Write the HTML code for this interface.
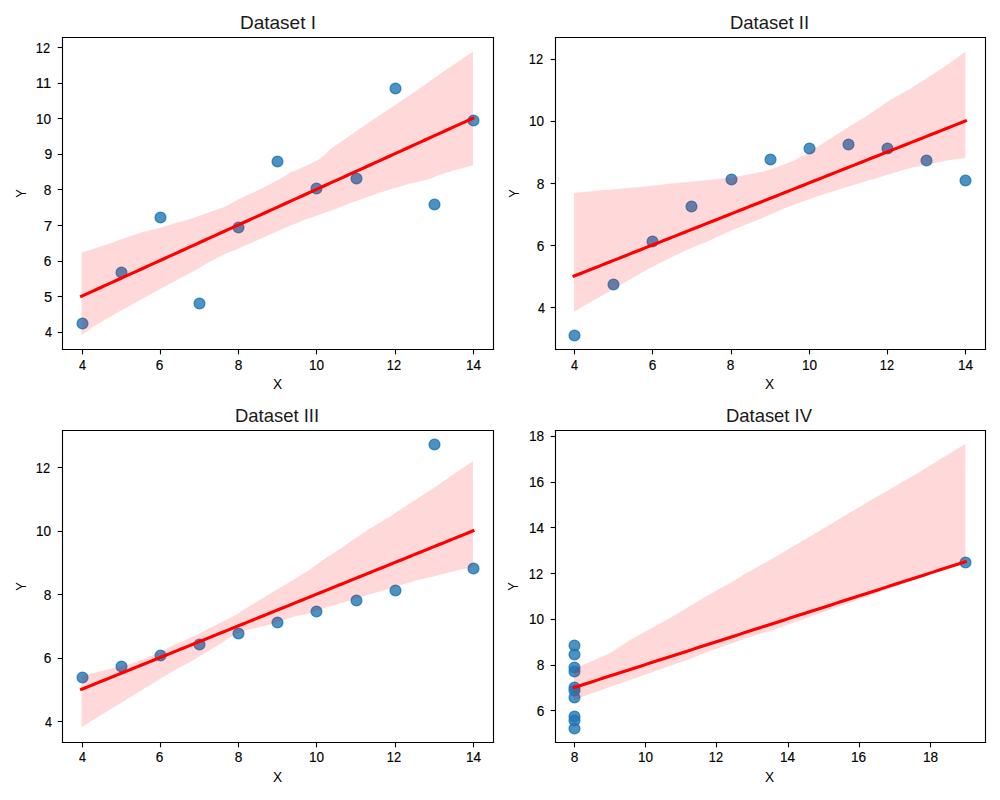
<!DOCTYPE html>
<html><head><meta charset="utf-8"><title>Anscombe</title><style>html,body{margin:0;padding:0;background:#fff;overflow:hidden;width:1000px;height:800px}.wrap{position:relative;width:1000px;height:800px}.wrap svg{position:absolute;left:0;top:0;display:block}</style></head><body><div class="wrap">
<svg width="1000" height="800" viewBox="0 0 720 576" version="1.1">
 <defs>
  <style type="text/css">*{stroke-linejoin: round; stroke-linecap: butt}</style>
 </defs>
 <g id="figure_1">
  <g id="patch_1">
   <path d="M 0 576 
L 720 576 
L 720 0 
L 0 0 
z
" style="fill: #ffffff"/>
  </g>
  <g id="axes_1">
   <g id="patch_2">
    <path d="M 44.66 251.44 
L 354.6 251.44 
L 354.6 26.88 
L 44.66 26.88 
z
" style="fill: #ffffff"/>
   </g>
   <g id="PathCollection_1">
    <defs>
     <path id="me8ba487dad" d="M 0 3.872983 
C 1.027127 3.872983 2.012324 3.464901 2.738613 2.738613 
C 3.464901 2.012324 3.872983 1.027127 3.872983 0 
C 3.872983 -1.027127 3.464901 -2.012324 2.738613 -2.738613 
C 2.012324 -3.464901 1.027127 -3.872983 0 -3.872983 
C -1.027127 -3.872983 -2.012324 -3.464901 -2.738613 -2.738613 
C -3.464901 -2.012324 -3.872983 -1.027127 -3.872983 0 
C -3.872983 1.027127 -3.464901 2.012324 -2.738613 2.738613 
C -2.012324 3.464901 -1.027127 3.872983 0 3.872983 
z
" style="stroke: #1f77b4; stroke-opacity: 0.8"/>
    </defs>
    <g clip-path="url(#p485df632ab)">
     <use href="#me8ba487dad" x="227.88" y="135.72" style="fill: #1f77b4; fill-opacity: 0.8; stroke: #1f77b4; stroke-opacity: 0.8"/>
     <use href="#me8ba487dad" x="171.72" y="163.8" style="fill: #1f77b4; fill-opacity: 0.8; stroke: #1f77b4; stroke-opacity: 0.8"/>
     <use href="#me8ba487dad" x="312.84" y="147.24" style="fill: #1f77b4; fill-opacity: 0.8; stroke: #1f77b4; stroke-opacity: 0.8"/>
     <use href="#me8ba487dad" x="199.8" y="116.28" style="fill: #1f77b4; fill-opacity: 0.8; stroke: #1f77b4; stroke-opacity: 0.8"/>
     <use href="#me8ba487dad" x="256.68" y="128.52" style="fill: #1f77b4; fill-opacity: 0.8; stroke: #1f77b4; stroke-opacity: 0.8"/>
     <use href="#me8ba487dad" x="340.92" y="86.76" style="fill: #1f77b4; fill-opacity: 0.8; stroke: #1f77b4; stroke-opacity: 0.8"/>
     <use href="#me8ba487dad" x="115.56" y="156.6" style="fill: #1f77b4; fill-opacity: 0.8; stroke: #1f77b4; stroke-opacity: 0.8"/>
     <use href="#me8ba487dad" x="59.4" y="232.92" style="fill: #1f77b4; fill-opacity: 0.8; stroke: #1f77b4; stroke-opacity: 0.8"/>
     <use href="#me8ba487dad" x="284.76" y="63.72" style="fill: #1f77b4; fill-opacity: 0.8; stroke: #1f77b4; stroke-opacity: 0.8"/>
     <use href="#me8ba487dad" x="143.64" y="218.52" style="fill: #1f77b4; fill-opacity: 0.8; stroke: #1f77b4; stroke-opacity: 0.8"/>
     <use href="#me8ba487dad" x="87.48" y="196.2" style="fill: #1f77b4; fill-opacity: 0.8; stroke: #1f77b4; stroke-opacity: 0.8"/>
    </g>
   </g>
   <g id="FillBetweenPolyCollection_1">
    <path d="M 58.748182 181.872 
L 58.748182 241.2 
L 61.594279 239.214916 
L 64.440376 237.227166 
L 67.286474 235.239415 
L 70.132571 233.476025 
L 72.978669 231.764874 
L 75.824766 230.053724 
L 78.670863 228.342573 
L 81.516961 226.73288 
L 84.363058 225.169283 
L 87.209155 223.605686 
L 90.055253 222.04209 
L 92.90135 220.473856 
L 95.747447 218.902391 
L 98.593545 217.330926 
L 101.439642 215.759462 
L 104.285739 214.191662 
L 107.131837 212.628065 
L 109.977934 211.064468 
L 112.824031 209.500872 
L 115.670129 207.940801 
L 118.516226 206.386797 
L 121.362323 204.832793 
L 124.208421 203.278789 
L 127.054518 201.742851 
L 129.900615 200.26288 
L 132.746713 198.782909 
L 135.59281 197.300943 
L 138.438907 195.796578 
L 141.285005 194.228997 
L 144.131102 192.521339 
L 146.977199 190.81368 
L 149.823297 189.106022 
L 152.669394 187.545303 
L 155.515491 186.122254 
L 158.361589 184.699206 
L 161.207686 183.276157 
L 164.053783 182.058487 
L 166.899881 180.920048 
L 169.745978 179.781609 
L 172.592075 178.64317 
L 175.438173 177.372822 
L 178.28427 176.092079 
L 181.130367 174.811335 
L 183.976465 173.530591 
L 186.822562 172.249847 
L 189.668659 170.969103 
L 192.514757 169.68836 
L 195.360854 168.416094 
L 198.206951 167.160463 
L 201.053049 165.904831 
L 203.899146 164.6492 
L 206.745243 163.39761 
L 209.591341 162.251266 
L 212.437438 161.104921 
L 215.283535 159.958576 
L 218.129633 158.812231 
L 220.97573 157.738494 
L 223.821827 156.74236 
L 226.667925 155.746226 
L 229.514022 154.750092 
L 232.360119 153.753958 
L 235.206217 152.757824 
L 238.052314 151.76169 
L 240.898411 150.765556 
L 243.744509 149.642197 
L 246.590606 148.503758 
L 249.436703 147.365319 
L 252.282801 146.24102 
L 255.128898 145.244886 
L 257.974995 144.248752 
L 260.821093 143.252618 
L 263.66719 142.247812 
L 266.513287 141.223217 
L 269.359385 140.198621 
L 272.205482 139.174026 
L 275.051579 138.224914 
L 277.897677 137.348316 
L 280.743774 136.471718 
L 283.589871 135.603039 
L 286.435969 134.749209 
L 289.282066 133.89538 
L 292.128163 133.069015 
L 294.974261 132.363183 
L 297.820358 131.657351 
L 300.666455 130.951253 
L 303.512553 130.234037 
L 306.35865 129.51682 
L 309.204747 128.799604 
L 312.050845 127.719662 
L 314.896942 126.581223 
L 317.743039 125.442784 
L 320.589137 124.503259 
L 323.435234 123.64943 
L 326.281331 122.795601 
L 329.127429 122.021198 
L 331.973526 121.315366 
L 334.819624 120.609533 
L 337.665721 119.916102 
L 340.511818 119.243388 
L 340.511818 37.112779 
L 340.511818 37.112779 
L 337.665721 39.049059 
L 334.819624 40.985338 
L 331.973526 42.921617 
L 329.127429 44.857897 
L 326.281331 46.794176 
L 323.435234 48.730455 
L 320.589137 50.666735 
L 317.743039 52.619872 
L 314.896942 54.61214 
L 312.050845 56.604409 
L 309.204747 58.596677 
L 306.35865 60.588945 
L 303.512553 62.581213 
L 300.666455 64.573481 
L 297.820358 66.565749 
L 294.974261 68.558017 
L 292.128163 70.550286 
L 289.282066 72.449836 
L 286.435969 74.328261 
L 283.589871 76.206685 
L 280.743774 78.085109 
L 277.897677 79.963533 
L 275.051579 81.841958 
L 272.205482 83.720382 
L 269.359385 85.598806 
L 266.513287 87.47723 
L 263.66719 89.392967 
L 260.821093 91.385235 
L 257.974995 93.377503 
L 255.128898 95.369771 
L 252.282801 97.362039 
L 249.436703 99.354308 
L 246.590606 101.346576 
L 243.744509 103.338844 
L 240.898411 105.331112 
L 238.052314 107.32338 
L 235.206217 109.914094 
L 232.360119 112.617887 
L 229.514022 114.922989 
L 226.667925 116.346038 
L 223.821827 117.769086 
L 220.97573 119.192135 
L 218.129633 120.468147 
L 215.283535 121.606586 
L 212.437438 122.745025 
L 209.591341 123.883464 
L 206.745243 125.63833 
L 203.899146 127.43547 
L 201.053049 129.000823 
L 198.206951 130.566177 
L 195.360854 132.13153 
L 192.514757 133.602622 
L 189.668659 135.02567 
L 186.822562 136.448719 
L 183.976465 137.871768 
L 181.130367 139.171335 
L 178.28427 140.452079 
L 175.438173 141.732822 
L 172.592075 143.034359 
L 169.745978 144.599712 
L 166.899881 146.165066 
L 164.053783 147.730419 
L 161.207686 149.13731 
L 158.361589 150.133444 
L 155.515491 151.129578 
L 152.669394 152.125712 
L 149.823297 153.121846 
L 146.977199 154.11798 
L 144.131102 155.114114 
L 141.285005 156.110248 
L 138.438907 157.106382 
L 135.59281 158.102517 
L 132.746713 158.873908 
L 129.900615 159.625278 
L 127.054518 160.376647 
L 124.208421 161.246393 
L 121.362323 162.154351 
L 118.516226 163.062308 
L 115.670129 163.970266 
L 112.824031 164.715104 
L 109.977934 165.365139 
L 107.131837 166.015173 
L 104.285739 166.665208 
L 101.439642 167.471677 
L 98.593545 168.414556 
L 95.747447 169.357435 
L 92.90135 170.300314 
L 90.055253 171.288869 
L 87.209155 172.34298 
L 84.363058 173.39709 
L 81.516961 174.4512 
L 78.670863 175.459651 
L 75.824766 176.367608 
L 72.978669 177.275566 
L 70.132571 178.183523 
L 67.286474 179.094909 
L 64.440376 180.02102 
L 61.594279 180.947131 
L 58.748182 181.872 
z
" clip-path="url(#p485df632ab)" style="fill: #ff0000; fill-opacity: 0.15"/>
   </g>
   <g id="matplotlib.axis_1">
    <g id="xtick_1">
     <g id="line2d_1">
      <defs>
       <path id="m1504cfccaf" d="M 0 0 
L 0 3.5 
" style="stroke: #000000; stroke-width: 0.8"/>
      </defs>
      <g>
       <use href="#m1504cfccaf" x="59.4" y="251.64" style="stroke: #000000; stroke-width: 0.8"/>
      </g>
     </g>
    </g>
    <g id="xtick_2">
     <g id="line2d_2">
      <g>
       <use href="#m1504cfccaf" x="115.56" y="251.64" style="stroke: #000000; stroke-width: 0.8"/>
      </g>
     </g>
    </g>
    <g id="xtick_3">
     <g id="line2d_3">
      <g>
       <use href="#m1504cfccaf" x="171.72" y="251.64" style="stroke: #000000; stroke-width: 0.8"/>
      </g>
     </g>
    </g>
    <g id="xtick_4">
     <g id="line2d_4">
      <g>
       <use href="#m1504cfccaf" x="227.88" y="251.64" style="stroke: #000000; stroke-width: 0.8"/>
      </g>
     </g>
    </g>
    <g id="xtick_5">
     <g id="line2d_5">
      <g>
       <use href="#m1504cfccaf" x="284.76" y="251.64" style="stroke: #000000; stroke-width: 0.8"/>
      </g>
     </g>
    </g>
    <g id="xtick_6">
     <g id="line2d_6">
      <g>
       <use href="#m1504cfccaf" x="340.92" y="251.64" style="stroke: #000000; stroke-width: 0.8"/>
      </g>
     </g>
    </g>
   </g>
   <g id="matplotlib.axis_2">
    <g id="ytick_1">
     <g id="line2d_7">
      <defs>
       <path id="m5d545ce8f8" d="M 0 0 
L -3.5 0 
" style="stroke: #000000; stroke-width: 0.8"/>
      </defs>
      <g>
       <use href="#m5d545ce8f8" x="45" y="239.4" style="stroke: #000000; stroke-width: 0.8"/>
      </g>
     </g>
    </g>
    <g id="ytick_2">
     <g id="line2d_8">
      <g>
       <use href="#m5d545ce8f8" x="45" y="213.48" style="stroke: #000000; stroke-width: 0.8"/>
      </g>
     </g>
    </g>
    <g id="ytick_3">
     <g id="line2d_9">
      <g>
       <use href="#m5d545ce8f8" x="45" y="188.28" style="stroke: #000000; stroke-width: 0.8"/>
      </g>
     </g>
    </g>
    <g id="ytick_4">
     <g id="line2d_10">
      <g>
       <use href="#m5d545ce8f8" x="45" y="162.36" style="stroke: #000000; stroke-width: 0.8"/>
      </g>
     </g>
    </g>
    <g id="ytick_5">
     <g id="line2d_11">
      <g>
       <use href="#m5d545ce8f8" x="45" y="136.44" style="stroke: #000000; stroke-width: 0.8"/>
      </g>
     </g>
    </g>
    <g id="ytick_6">
     <g id="line2d_12">
      <g>
       <use href="#m5d545ce8f8" x="45" y="111.24" style="stroke: #000000; stroke-width: 0.8"/>
      </g>
     </g>
    </g>
    <g id="ytick_7">
     <g id="line2d_13">
      <g>
       <use href="#m5d545ce8f8" x="45" y="85.32" style="stroke: #000000; stroke-width: 0.8"/>
      </g>
     </g>
    </g>
    <g id="ytick_8">
     <g id="line2d_14">
      <g>
       <use href="#m5d545ce8f8" x="45" y="60.12" style="stroke: #000000; stroke-width: 0.8"/>
      </g>
     </g>
    </g>
    <g id="ytick_9">
     <g id="line2d_15">
      <g>
       <use href="#m5d545ce8f8" x="45" y="34.2" style="stroke: #000000; stroke-width: 0.8"/>
      </g>
     </g>
    </g>
   </g>
   <g id="line2d_16">
    <path d="M 58.748182 213.284034 
L 61.594279 211.989339 
L 64.440376 210.694643 
L 67.286474 209.399947 
L 70.132571 208.105252 
L 72.978669 206.810556 
L 75.824766 205.51586 
L 78.670863 204.221165 
L 81.516961 202.926469 
L 84.363058 201.631773 
L 87.209155 200.337078 
L 90.055253 199.042382 
L 92.90135 197.747686 
L 95.747447 196.452991 
L 98.593545 195.158295 
L 101.439642 193.863599 
L 104.285739 192.568903 
L 107.131837 191.274208 
L 109.977934 189.979512 
L 112.824031 188.684816 
L 115.670129 187.390121 
L 118.516226 186.095425 
L 121.362323 184.800729 
L 124.208421 183.506034 
L 127.054518 182.211338 
L 129.900615 180.916642 
L 132.746713 179.621947 
L 135.59281 178.327251 
L 138.438907 177.032555 
L 141.285005 175.73786 
L 144.131102 174.443164 
L 146.977199 173.148468 
L 149.823297 171.853773 
L 152.669394 170.559077 
L 155.515491 169.264381 
L 158.361589 167.969686 
L 161.207686 166.67499 
L 164.053783 165.380294 
L 166.899881 164.085598 
L 169.745978 162.790903 
L 172.592075 161.496207 
L 175.438173 160.201511 
L 178.28427 158.906816 
L 181.130367 157.61212 
L 183.976465 156.317424 
L 186.822562 155.022729 
L 189.668659 153.728033 
L 192.514757 152.433337 
L 195.360854 151.138642 
L 198.206951 149.843946 
L 201.053049 148.54925 
L 203.899146 147.254555 
L 206.745243 145.959859 
L 209.591341 144.665163 
L 212.437438 143.370468 
L 215.283535 142.075772 
L 218.129633 140.781076 
L 220.97573 139.486381 
L 223.821827 138.191685 
L 226.667925 136.896989 
L 229.514022 135.602293 
L 232.360119 134.307598 
L 235.206217 133.012902 
L 238.052314 131.718206 
L 240.898411 130.423511 
L 243.744509 129.128815 
L 246.590606 127.834119 
L 249.436703 126.539424 
L 252.282801 125.244728 
L 255.128898 123.950032 
L 257.974995 122.655337 
L 260.821093 121.360641 
L 263.66719 120.065945 
L 266.513287 118.77125 
L 269.359385 117.476554 
L 272.205482 116.181858 
L 275.051579 114.887163 
L 277.897677 113.592467 
L 280.743774 112.297771 
L 283.589871 111.003076 
L 286.435969 109.70838 
L 289.282066 108.413684 
L 292.128163 107.118988 
L 294.974261 105.824293 
L 297.820358 104.529597 
L 300.666455 103.234901 
L 303.512553 101.940206 
L 306.35865 100.64551 
L 309.204747 99.350814 
L 312.050845 98.056119 
L 314.896942 96.761423 
L 317.743039 95.466727 
L 320.589137 94.172032 
L 323.435234 92.877336 
L 326.281331 91.58264 
L 329.127429 90.287945 
L 331.973526 88.993249 
L 334.819624 87.698553 
L 337.665721 86.403858 
L 340.511818 85.109162 
" clip-path="url(#p485df632ab)" style="fill: none; stroke: #ff0000; stroke-width: 2.25; stroke-linecap: square"/>
   </g>
   <g id="patch_3">
    <path d="M 45 251.64 
L 45 27 
" style="fill: none; stroke: #000000; stroke-width: 0.8; stroke-linejoin: miter; stroke-linecap: square"/>
   </g>
   <g id="patch_4">
    <path d="M 355.32 251.64 
L 355.32 27 
" style="fill: none; stroke: #000000; stroke-width: 0.8; stroke-linejoin: miter; stroke-linecap: square"/>
   </g>
   <g id="patch_5">
    <path d="M 45 251.64 
L 355.32 251.64 
" style="fill: none; stroke: #000000; stroke-width: 0.8; stroke-linejoin: miter; stroke-linecap: square"/>
   </g>
   <g id="patch_6">
    <path d="M 45 27 
L 355.32 27 
" style="fill: none; stroke: #000000; stroke-width: 0.8; stroke-linejoin: miter; stroke-linecap: square"/>
   </g>
  </g>
  <g id="axes_2">
   <g id="patch_7">
    <path d="M 399.26 251.44 
L 709.2 251.44 
L 709.2 26.88 
L 399.26 26.88 
z
" style="fill: #ffffff"/>
   </g>
   <g id="PathCollection_2">
    <g clip-path="url(#p1b302e3067)">
     <use href="#me8ba487dad" x="582.84" y="106.92" style="fill: #1f77b4; fill-opacity: 0.8; stroke: #1f77b4; stroke-opacity: 0.8"/>
     <use href="#me8ba487dad" x="526.68" y="129.24" style="fill: #1f77b4; fill-opacity: 0.8; stroke: #1f77b4; stroke-opacity: 0.8"/>
     <use href="#me8ba487dad" x="667.08" y="115.56" style="fill: #1f77b4; fill-opacity: 0.8; stroke: #1f77b4; stroke-opacity: 0.8"/>
     <use href="#me8ba487dad" x="554.76" y="114.84" style="fill: #1f77b4; fill-opacity: 0.8; stroke: #1f77b4; stroke-opacity: 0.8"/>
     <use href="#me8ba487dad" x="610.92" y="104.04" style="fill: #1f77b4; fill-opacity: 0.8; stroke: #1f77b4; stroke-opacity: 0.8"/>
     <use href="#me8ba487dad" x="695.16" y="129.96" style="fill: #1f77b4; fill-opacity: 0.8; stroke: #1f77b4; stroke-opacity: 0.8"/>
     <use href="#me8ba487dad" x="469.8" y="173.88" style="fill: #1f77b4; fill-opacity: 0.8; stroke: #1f77b4; stroke-opacity: 0.8"/>
     <use href="#me8ba487dad" x="413.64" y="241.56" style="fill: #1f77b4; fill-opacity: 0.8; stroke: #1f77b4; stroke-opacity: 0.8"/>
     <use href="#me8ba487dad" x="639" y="106.92" style="fill: #1f77b4; fill-opacity: 0.8; stroke: #1f77b4; stroke-opacity: 0.8"/>
     <use href="#me8ba487dad" x="497.88" y="148.68" style="fill: #1f77b4; fill-opacity: 0.8; stroke: #1f77b4; stroke-opacity: 0.8"/>
     <use href="#me8ba487dad" x="441.72" y="204.84" style="fill: #1f77b4; fill-opacity: 0.8; stroke: #1f77b4; stroke-opacity: 0.8"/>
    </g>
   </g>
   <g id="FillBetweenPolyCollection_2">
    <path d="M 413.348182 138.920115 
L 413.348182 224.393649 
L 416.194279 222.756168 
L 419.040376 221.118687 
L 421.886474 219.481207 
L 424.732571 217.843726 
L 427.578669 216.206246 
L 430.424766 214.568765 
L 433.270863 212.931284 
L 436.116961 211.293804 
L 438.963058 209.656323 
L 441.809155 208.019736 
L 444.655253 206.38323 
L 447.50135 204.746724 
L 450.347447 203.110218 
L 453.193545 201.473712 
L 456.039642 199.837206 
L 458.885739 198.2007 
L 461.731837 196.564194 
L 464.577934 194.927688 
L 467.424031 193.291182 
L 470.270129 191.824936 
L 473.116226 190.401887 
L 475.962323 188.978838 
L 478.808421 187.55579 
L 481.654518 186.132741 
L 484.500615 184.762208 
L 487.346713 183.410312 
L 490.19281 182.058415 
L 493.038907 180.706519 
L 495.885005 179.354623 
L 498.731102 178.147559 
L 501.577199 177.00912 
L 504.423297 175.870681 
L 507.269394 174.732242 
L 510.115491 173.468029 
L 512.961589 172.187285 
L 515.807686 170.906541 
L 518.653783 169.625798 
L 521.499881 168.345054 
L 524.345978 167.06431 
L 527.192075 165.783566 
L 530.038173 164.544731 
L 532.88427 163.406292 
L 535.730367 162.267853 
L 538.576465 161.129414 
L 541.422562 159.990975 
L 544.268659 158.852536 
L 547.114757 157.714097 
L 549.960854 156.575658 
L 552.806951 155.336872 
L 555.653049 154.056128 
L 558.499146 152.775384 
L 561.345243 151.49464 
L 564.191341 150.343464 
L 567.037438 149.205025 
L 569.883535 148.066586 
L 572.729633 146.944629 
L 575.57573 145.948494 
L 578.421827 144.95236 
L 581.267925 143.956226 
L 584.114022 142.960092 
L 586.960119 141.963958 
L 589.806217 140.967824 
L 592.652314 139.97169 
L 595.498411 139.035492 
L 598.344509 138.153202 
L 601.190606 137.270912 
L 604.036703 136.388622 
L 606.882801 135.506332 
L 609.728898 134.624042 
L 612.574995 133.747501 
L 615.421093 132.893672 
L 618.26719 132.039843 
L 621.113287 131.186014 
L 623.959385 130.332185 
L 626.805482 129.478355 
L 629.651579 128.624526 
L 632.497677 127.770697 
L 635.343774 126.916868 
L 638.189871 126.063039 
L 641.035969 125.209209 
L 643.882066 124.35538 
L 646.728163 123.501551 
L 649.574261 122.647722 
L 652.420358 121.793893 
L 655.266455 120.946709 
L 658.112553 120.377489 
L 660.95865 119.80827 
L 663.804747 119.239051 
L 666.650845 118.669831 
L 669.496942 118.100612 
L 672.343039 117.531392 
L 675.189137 116.962173 
L 678.035234 116.392953 
L 680.881331 115.823734 
L 683.727429 115.254514 
L 686.573526 114.856863 
L 689.419624 114.477384 
L 692.265721 114.097904 
L 695.111818 113.76 
L 695.111818 37.08 
L 695.111818 37.08 
L 692.265721 39.022947 
L 689.419624 41.204955 
L 686.573526 43.386963 
L 683.727429 45.537171 
L 680.881331 47.387135 
L 678.035234 49.237098 
L 675.189137 51.087061 
L 672.343039 52.937024 
L 669.496942 54.786988 
L 666.650845 56.636951 
L 663.804747 58.486914 
L 660.95865 60.336877 
L 658.112553 62.186841 
L 655.266455 64.036804 
L 652.420358 65.608803 
L 649.574261 67.174157 
L 646.728163 68.73951 
L 643.882066 70.304864 
L 641.035969 71.870217 
L 638.189871 73.82709 
L 635.343774 75.819358 
L 632.497677 77.811626 
L 629.651579 79.803894 
L 626.805482 81.796163 
L 623.959385 83.544369 
L 621.113287 85.252028 
L 618.26719 86.959686 
L 615.421093 88.667344 
L 612.574995 90.375003 
L 609.728898 92.173505 
L 606.882801 93.995008 
L 604.036703 95.81651 
L 601.190606 97.638012 
L 598.344509 99.459514 
L 595.498411 101.281017 
L 592.652314 103.115996 
L 589.806217 104.965959 
L 586.960119 106.815922 
L 584.114022 108.665886 
L 581.267925 110.322641 
L 578.421827 111.887995 
L 575.57573 113.453348 
L 572.729633 115.018702 
L 569.883535 116.206586 
L 567.037438 117.345025 
L 564.191341 118.483464 
L 561.345243 119.609165 
L 558.499146 120.605299 
L 555.653049 121.601433 
L 552.806951 122.597567 
L 549.960854 123.467829 
L 547.114757 124.037049 
L 544.268659 124.606268 
L 541.422562 125.175488 
L 538.576465 125.702001 
L 535.730367 126.185838 
L 532.88427 126.669674 
L 530.038173 127.153511 
L 527.192075 127.55703 
L 524.345978 127.927023 
L 521.499881 128.297016 
L 518.653783 128.667008 
L 515.807686 128.959231 
L 512.961589 129.243841 
L 510.115491 129.528451 
L 507.269394 129.813061 
L 504.423297 130.09767 
L 501.577199 130.38228 
L 498.731102 130.66689 
L 495.885005 130.944637 
L 493.038907 131.207901 
L 490.19281 131.471165 
L 487.346713 131.734429 
L 484.500615 131.997693 
L 481.654518 132.281458 
L 478.808421 132.62299 
L 475.962323 132.964521 
L 473.116226 133.306053 
L 470.270129 133.647585 
L 467.424031 133.971837 
L 464.577934 134.227986 
L 461.731837 134.484135 
L 458.885739 134.740283 
L 456.039642 134.996432 
L 453.193545 135.252581 
L 450.347447 135.50873 
L 447.50135 135.764879 
L 444.655253 136.021027 
L 441.809155 136.277176 
L 438.963058 136.534071 
L 436.116961 136.799187 
L 433.270863 137.064303 
L 430.424766 137.329419 
L 427.578669 137.594535 
L 424.732571 137.859651 
L 421.886474 138.124767 
L 419.040376 138.389883 
L 416.194279 138.654999 
L 413.348182 138.920115 
z
" clip-path="url(#p1b302e3067)" style="fill: #ff0000; fill-opacity: 0.15"/>
   </g>
   <g id="matplotlib.axis_3">
    <g id="xtick_7">
     <g id="line2d_17">
      <g>
       <use href="#m1504cfccaf" x="413.64" y="251.64" style="stroke: #000000; stroke-width: 0.8"/>
      </g>
     </g>
    </g>
    <g id="xtick_8">
     <g id="line2d_18">
      <g>
       <use href="#m1504cfccaf" x="469.8" y="251.64" style="stroke: #000000; stroke-width: 0.8"/>
      </g>
     </g>
    </g>
    <g id="xtick_9">
     <g id="line2d_19">
      <g>
       <use href="#m1504cfccaf" x="526.68" y="251.64" style="stroke: #000000; stroke-width: 0.8"/>
      </g>
     </g>
    </g>
    <g id="xtick_10">
     <g id="line2d_20">
      <g>
       <use href="#m1504cfccaf" x="582.84" y="251.64" style="stroke: #000000; stroke-width: 0.8"/>
      </g>
     </g>
    </g>
    <g id="xtick_11">
     <g id="line2d_21">
      <g>
       <use href="#m1504cfccaf" x="639" y="251.64" style="stroke: #000000; stroke-width: 0.8"/>
      </g>
     </g>
    </g>
    <g id="xtick_12">
     <g id="line2d_22">
      <g>
       <use href="#m1504cfccaf" x="695.16" y="251.64" style="stroke: #000000; stroke-width: 0.8"/>
      </g>
     </g>
    </g>
   </g>
   <g id="matplotlib.axis_4">
    <g id="ytick_10">
     <g id="line2d_23">
      <g>
       <use href="#m5d545ce8f8" x="399.96" y="221.4" style="stroke: #000000; stroke-width: 0.8"/>
      </g>
     </g>
    </g>
    <g id="ytick_11">
     <g id="line2d_24">
      <g>
       <use href="#m5d545ce8f8" x="399.96" y="176.76" style="stroke: #000000; stroke-width: 0.8"/>
      </g>
     </g>
    </g>
    <g id="ytick_12">
     <g id="line2d_25">
      <g>
       <use href="#m5d545ce8f8" x="399.96" y="132.12" style="stroke: #000000; stroke-width: 0.8"/>
      </g>
     </g>
    </g>
    <g id="ytick_13">
     <g id="line2d_26">
      <g>
       <use href="#m5d545ce8f8" x="399.96" y="87.48" style="stroke: #000000; stroke-width: 0.8"/>
      </g>
     </g>
    </g>
    <g id="ytick_14">
     <g id="line2d_27">
      <g>
       <use href="#m5d545ce8f8" x="399.96" y="42.84" style="stroke: #000000; stroke-width: 0.8"/>
      </g>
     </g>
    </g>
   </g>
   <g id="line2d_28">
    <path d="M 413.348182 198.775183 
L 416.194279 197.647134 
L 419.040376 196.519084 
L 421.886474 195.391034 
L 424.732571 194.262984 
L 427.578669 193.134934 
L 430.424766 192.006884 
L 433.270863 190.878834 
L 436.116961 189.750784 
L 438.963058 188.622734 
L 441.809155 187.494684 
L 444.655253 186.366634 
L 447.50135 185.238584 
L 450.347447 184.110534 
L 453.193545 182.982484 
L 456.039642 181.854434 
L 458.885739 180.726384 
L 461.731837 179.598334 
L 464.577934 178.470284 
L 467.424031 177.342235 
L 470.270129 176.214185 
L 473.116226 175.086135 
L 475.962323 173.958085 
L 478.808421 172.830035 
L 481.654518 171.701985 
L 484.500615 170.573935 
L 487.346713 169.445885 
L 490.19281 168.317835 
L 493.038907 167.189785 
L 495.885005 166.061735 
L 498.731102 164.933685 
L 501.577199 163.805635 
L 504.423297 162.677585 
L 507.269394 161.549535 
L 510.115491 160.421485 
L 512.961589 159.293435 
L 515.807686 158.165385 
L 518.653783 157.037336 
L 521.499881 155.909286 
L 524.345978 154.781236 
L 527.192075 153.653186 
L 530.038173 152.525136 
L 532.88427 151.397086 
L 535.730367 150.269036 
L 538.576465 149.140986 
L 541.422562 148.012936 
L 544.268659 146.884886 
L 547.114757 145.756836 
L 549.960854 144.628786 
L 552.806951 143.500736 
L 555.653049 142.372686 
L 558.499146 141.244636 
L 561.345243 140.116586 
L 564.191341 138.988536 
L 567.037438 137.860486 
L 569.883535 136.732437 
L 572.729633 135.604387 
L 575.57573 134.476337 
L 578.421827 133.348287 
L 581.267925 132.220237 
L 584.114022 131.092187 
L 586.960119 129.964137 
L 589.806217 128.836087 
L 592.652314 127.708037 
L 595.498411 126.579987 
L 598.344509 125.451937 
L 601.190606 124.323887 
L 604.036703 123.195837 
L 606.882801 122.067787 
L 609.728898 120.939737 
L 612.574995 119.811687 
L 615.421093 118.683637 
L 618.26719 117.555587 
L 621.113287 116.427538 
L 623.959385 115.299488 
L 626.805482 114.171438 
L 629.651579 113.043388 
L 632.497677 111.915338 
L 635.343774 110.787288 
L 638.189871 109.659238 
L 641.035969 108.531188 
L 643.882066 107.403138 
L 646.728163 106.275088 
L 649.574261 105.147038 
L 652.420358 104.018988 
L 655.266455 102.890938 
L 658.112553 101.762888 
L 660.95865 100.634838 
L 663.804747 99.506788 
L 666.650845 98.378738 
L 669.496942 97.250688 
L 672.343039 96.122639 
L 675.189137 94.994589 
L 678.035234 93.866539 
L 680.881331 92.738489 
L 683.727429 91.610439 
L 686.573526 90.482389 
L 689.419624 89.354339 
L 692.265721 88.226289 
L 695.111818 87.098239 
" clip-path="url(#p1b302e3067)" style="fill: none; stroke: #ff0000; stroke-width: 2.25; stroke-linecap: square"/>
   </g>
   <g id="patch_8">
    <path d="M 399.96 251.64 
L 399.96 27 
" style="fill: none; stroke: #000000; stroke-width: 0.8; stroke-linejoin: miter; stroke-linecap: square"/>
   </g>
   <g id="patch_9">
    <path d="M 709.56 251.64 
L 709.56 27 
" style="fill: none; stroke: #000000; stroke-width: 0.8; stroke-linejoin: miter; stroke-linecap: square"/>
   </g>
   <g id="patch_10">
    <path d="M 399.96 251.64 
L 709.56 251.64 
" style="fill: none; stroke: #000000; stroke-width: 0.8; stroke-linejoin: miter; stroke-linecap: square"/>
   </g>
   <g id="patch_11">
    <path d="M 399.96 27 
L 709.56 27 
" style="fill: none; stroke: #000000; stroke-width: 0.8; stroke-linejoin: miter; stroke-linecap: square"/>
   </g>
  </g>
  <g id="axes_3">
   <g id="patch_12">
    <path d="M 44.66 534.04 
L 354.6 534.04 
L 354.6 309.48 
L 44.66 309.48 
z
" style="fill: #ffffff"/>
   </g>
   <g id="PathCollection_3">
    <g clip-path="url(#p8f1239e0fe)">
     <use href="#me8ba487dad" x="227.88" y="440.28" style="fill: #1f77b4; fill-opacity: 0.8; stroke: #1f77b4; stroke-opacity: 0.8"/>
     <use href="#me8ba487dad" x="171.72" y="456.12" style="fill: #1f77b4; fill-opacity: 0.8; stroke: #1f77b4; stroke-opacity: 0.8"/>
     <use href="#me8ba487dad" x="312.84" y="320.04" style="fill: #1f77b4; fill-opacity: 0.8; stroke: #1f77b4; stroke-opacity: 0.8"/>
     <use href="#me8ba487dad" x="199.8" y="448.2" style="fill: #1f77b4; fill-opacity: 0.8; stroke: #1f77b4; stroke-opacity: 0.8"/>
     <use href="#me8ba487dad" x="256.68" y="432.36" style="fill: #1f77b4; fill-opacity: 0.8; stroke: #1f77b4; stroke-opacity: 0.8"/>
     <use href="#me8ba487dad" x="340.92" y="409.32" style="fill: #1f77b4; fill-opacity: 0.8; stroke: #1f77b4; stroke-opacity: 0.8"/>
     <use href="#me8ba487dad" x="115.56" y="471.96" style="fill: #1f77b4; fill-opacity: 0.8; stroke: #1f77b4; stroke-opacity: 0.8"/>
     <use href="#me8ba487dad" x="59.4" y="487.8" style="fill: #1f77b4; fill-opacity: 0.8; stroke: #1f77b4; stroke-opacity: 0.8"/>
     <use href="#me8ba487dad" x="284.76" y="425.16" style="fill: #1f77b4; fill-opacity: 0.8; stroke: #1f77b4; stroke-opacity: 0.8"/>
     <use href="#me8ba487dad" x="143.64" y="464.04" style="fill: #1f77b4; fill-opacity: 0.8; stroke: #1f77b4; stroke-opacity: 0.8"/>
     <use href="#me8ba487dad" x="87.48" y="479.88" style="fill: #1f77b4; fill-opacity: 0.8; stroke: #1f77b4; stroke-opacity: 0.8"/>
    </g>
   </g>
   <g id="FillBetweenPolyCollection_3">
    <path d="M 58.748182 487.059021 
L 58.748182 523.755534 
L 61.594279 521.899383 
L 64.440376 520.043233 
L 67.286474 518.199664 
L 70.132571 516.453195 
L 72.978669 514.706726 
L 75.824766 512.960257 
L 78.670863 511.213789 
L 81.516961 509.46732 
L 84.363058 507.742165 
L 87.209155 506.034507 
L 90.055253 504.326848 
L 92.90135 502.61919 
L 95.747447 500.911532 
L 98.593545 499.169035 
L 101.439642 497.390224 
L 104.285739 495.611413 
L 107.131837 493.832602 
L 109.977934 492.053791 
L 112.824031 490.305581 
L 115.670129 488.597923 
L 118.516226 486.890264 
L 121.362323 485.182606 
L 124.208421 483.474948 
L 127.054518 481.83759 
L 129.900615 480.319672 
L 132.746713 478.801753 
L 135.59281 477.283835 
L 138.438907 475.656656 
L 141.285005 473.948997 
L 144.131102 472.241339 
L 146.977199 470.53368 
L 149.823297 468.826022 
L 152.669394 467.118364 
L 155.515491 465.410705 
L 158.361589 463.703047 
L 161.207686 461.808209 
L 164.053783 459.910811 
L 166.899881 458.097575 
L 169.745978 456.468908 
L 172.592075 455.472774 
L 175.438173 454.47664 
L 178.28427 453.480506 
L 181.130367 452.653927 
L 183.976465 452.084707 
L 186.822562 451.515488 
L 189.668659 450.946268 
L 192.514757 450.184139 
L 195.360854 449.294733 
L 198.206951 448.405328 
L 201.053049 447.482317 
L 203.899146 446.533618 
L 206.745243 445.584919 
L 209.591341 444.63622 
L 212.437438 443.692512 
L 215.283535 443.123293 
L 218.129633 442.554073 
L 220.97573 441.984854 
L 223.821827 441.30868 
L 226.667925 440.249932 
L 229.514022 439.191184 
L 232.360119 438.14432 
L 235.206217 437.296815 
L 238.052314 436.449311 
L 240.898411 435.601806 
L 243.744509 434.754302 
L 246.590606 433.906797 
L 249.436703 433.054685 
L 252.282801 432.194531 
L 255.128898 431.334377 
L 257.974995 430.474224 
L 260.821093 429.61407 
L 263.66719 428.753916 
L 266.513287 427.902266 
L 269.359385 427.054761 
L 272.205482 426.207256 
L 275.051579 425.359752 
L 277.897677 424.512247 
L 280.743774 423.664743 
L 283.589871 422.804839 
L 286.435969 421.944685 
L 289.282066 421.084531 
L 292.128163 420.224377 
L 294.974261 419.364223 
L 297.820358 418.547822 
L 300.666455 417.83946 
L 303.512553 417.131098 
L 306.35865 416.422736 
L 309.204747 415.714374 
L 312.050845 415.006012 
L 314.896942 414.29765 
L 317.743039 413.589288 
L 320.589137 412.880926 
L 323.435234 412.172564 
L 326.281331 411.464202 
L 329.127429 410.75584 
L 331.973526 410.116105 
L 334.819624 409.483639 
L 337.665721 408.851173 
L 340.511818 408.24 
L 340.511818 332.1 
L 340.511818 332.1 
L 337.665721 333.924532 
L 334.819624 335.812629 
L 331.973526 337.700726 
L 329.127429 339.598194 
L 326.281331 341.584138 
L 323.435234 343.570081 
L 320.589137 345.556025 
L 317.743039 347.541968 
L 314.896942 349.527911 
L 312.050845 351.460228 
L 309.204747 353.313353 
L 306.35865 355.166479 
L 303.512553 357.019605 
L 300.666455 358.87273 
L 297.820358 360.725856 
L 294.974261 362.578981 
L 292.128163 364.432107 
L 289.282066 366.285233 
L 286.435969 368.138358 
L 283.589871 369.991484 
L 280.743774 371.841736 
L 277.897677 373.549394 
L 275.051579 375.257052 
L 272.205482 376.964711 
L 269.359385 378.672369 
L 266.513287 380.380028 
L 263.66719 382.178894 
L 260.821093 384.164838 
L 257.974995 386.150781 
L 255.128898 388.136724 
L 252.282801 390.122668 
L 249.436703 392.108611 
L 246.590606 394.010116 
L 243.744509 395.863242 
L 240.898411 397.716368 
L 238.052314 399.569493 
L 235.206217 401.422619 
L 232.360119 403.275744 
L 229.514022 405.367624 
L 226.667925 407.473736 
L 223.821827 409.579848 
L 220.97573 411.411633 
L 218.129633 413.166727 
L 215.283535 414.92182 
L 212.437438 416.676913 
L 209.591341 418.385196 
L 206.745243 420.092854 
L 203.899146 421.800512 
L 201.053049 423.508171 
L 198.206951 425.215829 
L 195.360854 426.923488 
L 192.514757 428.631146 
L 189.668659 430.338804 
L 186.822562 432.046463 
L 183.976465 433.754121 
L 181.130367 435.46178 
L 178.28427 437.255225 
L 175.438173 439.105188 
L 172.592075 440.955151 
L 169.745978 442.805114 
L 166.899881 444.31006 
L 164.053783 445.733108 
L 161.207686 447.156157 
L 158.361589 448.579206 
L 155.515491 450.002254 
L 152.669394 451.425303 
L 149.823297 452.848352 
L 146.977199 454.2714 
L 144.131102 455.694449 
L 141.285005 457.117498 
L 138.438907 458.540546 
L 135.59281 459.903236 
L 132.746713 461.183979 
L 129.900615 462.464723 
L 127.054518 463.745467 
L 124.208421 465.08593 
L 121.362323 466.461544 
L 118.516226 467.837157 
L 115.670129 469.212771 
L 112.824031 470.469586 
L 109.977934 471.702895 
L 107.131837 472.936204 
L 104.285739 474.161896 
L 101.439642 475.205465 
L 98.593545 476.249034 
L 95.747447 477.292603 
L 92.90135 478.254663 
L 90.055253 478.966187 
L 87.209155 479.677711 
L 84.363058 480.355287 
L 81.516961 481.019376 
L 78.670863 481.683465 
L 75.824766 482.347555 
L 72.978669 483.093882 
L 70.132571 483.847261 
L 67.286474 484.600639 
L 64.440376 485.354018 
L 61.594279 486.183299 
L 58.748182 487.059021 
z
" clip-path="url(#p8f1239e0fe)" style="fill: #ff0000; fill-opacity: 0.15"/>
   </g>
   <g id="matplotlib.axis_5">
    <g id="xtick_13">
     <g id="line2d_29">
      <g>
       <use href="#m1504cfccaf" x="59.4" y="534.6" style="stroke: #000000; stroke-width: 0.8"/>
      </g>
     </g>
    </g>
    <g id="xtick_14">
     <g id="line2d_30">
      <g>
       <use href="#m1504cfccaf" x="115.56" y="534.6" style="stroke: #000000; stroke-width: 0.8"/>
      </g>
     </g>
    </g>
    <g id="xtick_15">
     <g id="line2d_31">
      <g>
       <use href="#m1504cfccaf" x="171.72" y="534.6" style="stroke: #000000; stroke-width: 0.8"/>
      </g>
     </g>
    </g>
    <g id="xtick_16">
     <g id="line2d_32">
      <g>
       <use href="#m1504cfccaf" x="227.88" y="534.6" style="stroke: #000000; stroke-width: 0.8"/>
      </g>
     </g>
    </g>
    <g id="xtick_17">
     <g id="line2d_33">
      <g>
       <use href="#m1504cfccaf" x="284.76" y="534.6" style="stroke: #000000; stroke-width: 0.8"/>
      </g>
     </g>
    </g>
    <g id="xtick_18">
     <g id="line2d_34">
      <g>
       <use href="#m1504cfccaf" x="340.92" y="534.6" style="stroke: #000000; stroke-width: 0.8"/>
      </g>
     </g>
    </g>
   </g>
   <g id="matplotlib.axis_6">
    <g id="ytick_15">
     <g id="line2d_35">
      <g>
       <use href="#m5d545ce8f8" x="45" y="519.48" style="stroke: #000000; stroke-width: 0.8"/>
      </g>
     </g>
    </g>
    <g id="ytick_16">
     <g id="line2d_36">
      <g>
       <use href="#m5d545ce8f8" x="45" y="474.12" style="stroke: #000000; stroke-width: 0.8"/>
      </g>
     </g>
    </g>
    <g id="ytick_17">
     <g id="line2d_37">
      <g>
       <use href="#m5d545ce8f8" x="45" y="428.04" style="stroke: #000000; stroke-width: 0.8"/>
      </g>
     </g>
    </g>
    <g id="ytick_18">
     <g id="line2d_38">
      <g>
       <use href="#m5d545ce8f8" x="45" y="382.68" style="stroke: #000000; stroke-width: 0.8"/>
      </g>
     </g>
    </g>
    <g id="ytick_19">
     <g id="line2d_39">
      <g>
       <use href="#m5d545ce8f8" x="45" y="336.6" style="stroke: #000000; stroke-width: 0.8"/>
      </g>
     </g>
    </g>
   </g>
   <g id="line2d_40">
    <path d="M 58.748182 496.300737 
L 61.594279 495.148724 
L 64.440376 493.996712 
L 67.286474 492.844699 
L 70.132571 491.692687 
L 72.978669 490.540674 
L 75.824766 489.388661 
L 78.670863 488.236649 
L 81.516961 487.084636 
L 84.363058 485.932624 
L 87.209155 484.780611 
L 90.055253 483.628598 
L 92.90135 482.476586 
L 95.747447 481.324573 
L 98.593545 480.172561 
L 101.439642 479.020548 
L 104.285739 477.868536 
L 107.131837 476.716523 
L 109.977934 475.56451 
L 112.824031 474.412498 
L 115.670129 473.260485 
L 118.516226 472.108473 
L 121.362323 470.95646 
L 124.208421 469.804447 
L 127.054518 468.652435 
L 129.900615 467.500422 
L 132.746713 466.34841 
L 135.59281 465.196397 
L 138.438907 464.044384 
L 141.285005 462.892372 
L 144.131102 461.740359 
L 146.977199 460.588347 
L 149.823297 459.436334 
L 152.669394 458.284321 
L 155.515491 457.132309 
L 158.361589 455.980296 
L 161.207686 454.828284 
L 164.053783 453.676271 
L 166.899881 452.524258 
L 169.745978 451.372246 
L 172.592075 450.220233 
L 175.438173 449.068221 
L 178.28427 447.916208 
L 181.130367 446.764195 
L 183.976465 445.612183 
L 186.822562 444.46017 
L 189.668659 443.308158 
L 192.514757 442.156145 
L 195.360854 441.004133 
L 198.206951 439.85212 
L 201.053049 438.700107 
L 203.899146 437.548095 
L 206.745243 436.396082 
L 209.591341 435.24407 
L 212.437438 434.092057 
L 215.283535 432.940044 
L 218.129633 431.788032 
L 220.97573 430.636019 
L 223.821827 429.484007 
L 226.667925 428.331994 
L 229.514022 427.179981 
L 232.360119 426.027969 
L 235.206217 424.875956 
L 238.052314 423.723944 
L 240.898411 422.571931 
L 243.744509 421.419918 
L 246.590606 420.267906 
L 249.436703 419.115893 
L 252.282801 417.963881 
L 255.128898 416.811868 
L 257.974995 415.659855 
L 260.821093 414.507843 
L 263.66719 413.35583 
L 266.513287 412.203818 
L 269.359385 411.051805 
L 272.205482 409.899792 
L 275.051579 408.74778 
L 277.897677 407.595767 
L 280.743774 406.443755 
L 283.589871 405.291742 
L 286.435969 404.13973 
L 289.282066 402.987717 
L 292.128163 401.835704 
L 294.974261 400.683692 
L 297.820358 399.531679 
L 300.666455 398.379667 
L 303.512553 397.227654 
L 306.35865 396.075641 
L 309.204747 394.923629 
L 312.050845 393.771616 
L 314.896942 392.619604 
L 317.743039 391.467591 
L 320.589137 390.315578 
L 323.435234 389.163566 
L 326.281331 388.011553 
L 329.127429 386.859541 
L 331.973526 385.707528 
L 334.819624 384.555515 
L 337.665721 383.403503 
L 340.511818 382.25149 
" clip-path="url(#p8f1239e0fe)" style="fill: none; stroke: #ff0000; stroke-width: 2.25; stroke-linecap: square"/>
   </g>
   <g id="patch_13">
    <path d="M 45 534.6 
L 45 309.96 
" style="fill: none; stroke: #000000; stroke-width: 0.8; stroke-linejoin: miter; stroke-linecap: square"/>
   </g>
   <g id="patch_14">
    <path d="M 355.32 534.6 
L 355.32 309.96 
" style="fill: none; stroke: #000000; stroke-width: 0.8; stroke-linejoin: miter; stroke-linecap: square"/>
   </g>
   <g id="patch_15">
    <path d="M 45 534.6 
L 355.32 534.6 
" style="fill: none; stroke: #000000; stroke-width: 0.8; stroke-linejoin: miter; stroke-linecap: square"/>
   </g>
   <g id="patch_16">
    <path d="M 45 309.96 
L 355.32 309.96 
" style="fill: none; stroke: #000000; stroke-width: 0.8; stroke-linejoin: miter; stroke-linecap: square"/>
   </g>
  </g>
  <g id="axes_4">
   <g id="patch_17">
    <path d="M 399.26 534.04 
L 709.2 534.04 
L 709.2 309.48 
L 399.26 309.48 
z
" style="fill: #ffffff"/>
   </g>
   <g id="PathCollection_4">
    <g clip-path="url(#p495325319f)">
     <use href="#me8ba487dad" x="413.64" y="502.2" style="fill: #1f77b4; fill-opacity: 0.8; stroke: #1f77b4; stroke-opacity: 0.8"/>
     <use href="#me8ba487dad" x="413.64" y="515.88" style="fill: #1f77b4; fill-opacity: 0.8; stroke: #1f77b4; stroke-opacity: 0.8"/>
     <use href="#me8ba487dad" x="413.64" y="483.48" style="fill: #1f77b4; fill-opacity: 0.8; stroke: #1f77b4; stroke-opacity: 0.8"/>
     <use href="#me8ba487dad" x="413.64" y="464.76" style="fill: #1f77b4; fill-opacity: 0.8; stroke: #1f77b4; stroke-opacity: 0.8"/>
     <use href="#me8ba487dad" x="413.64" y="471.24" style="fill: #1f77b4; fill-opacity: 0.8; stroke: #1f77b4; stroke-opacity: 0.8"/>
     <use href="#me8ba487dad" x="413.64" y="495" style="fill: #1f77b4; fill-opacity: 0.8; stroke: #1f77b4; stroke-opacity: 0.8"/>
     <use href="#me8ba487dad" x="413.64" y="524.52" style="fill: #1f77b4; fill-opacity: 0.8; stroke: #1f77b4; stroke-opacity: 0.8"/>
     <use href="#me8ba487dad" x="695.16" y="405" style="fill: #1f77b4; fill-opacity: 0.8; stroke: #1f77b4; stroke-opacity: 0.8"/>
     <use href="#me8ba487dad" x="413.64" y="518.76" style="fill: #1f77b4; fill-opacity: 0.8; stroke: #1f77b4; stroke-opacity: 0.8"/>
     <use href="#me8ba487dad" x="413.64" y="480.6" style="fill: #1f77b4; fill-opacity: 0.8; stroke: #1f77b4; stroke-opacity: 0.8"/>
     <use href="#me8ba487dad" x="413.64" y="497.16" style="fill: #1f77b4; fill-opacity: 0.8; stroke: #1f77b4; stroke-opacity: 0.8"/>
    </g>
   </g>
   <g id="FillBetweenPolyCollection_4">
    <path d="M 413.348182 481.65017 
L 413.348182 503.974432 
L 416.194279 502.907145 
L 419.040376 501.839859 
L 421.886474 500.772572 
L 424.732571 499.705286 
L 427.578669 498.707466 
L 430.424766 497.711332 
L 433.270863 496.715198 
L 436.116961 495.719064 
L 438.963058 494.72293 
L 441.809155 493.726796 
L 444.655253 492.730662 
L 447.50135 491.734528 
L 450.347447 490.738393 
L 453.193545 489.742259 
L 456.039642 488.746125 
L 458.885739 487.749991 
L 461.731837 486.753857 
L 464.577934 485.757723 
L 467.424031 484.761589 
L 470.270129 483.765455 
L 473.116226 482.769321 
L 475.962323 481.773187 
L 478.808421 480.777053 
L 481.654518 479.780919 
L 484.500615 478.784785 
L 487.346713 477.788651 
L 490.19281 476.792517 
L 493.038907 475.796382 
L 495.885005 474.800248 
L 498.731102 473.707559 
L 501.577199 472.56912 
L 504.423297 471.430681 
L 507.269394 470.292242 
L 510.115491 469.153803 
L 512.961589 468.103444 
L 515.807686 467.10731 
L 518.653783 466.111176 
L 521.499881 465.115042 
L 524.345978 464.118908 
L 527.192075 463.122774 
L 530.038173 462.12664 
L 532.88427 461.130506 
L 535.730367 460.134371 
L 538.576465 459.138237 
L 541.422562 458.213231 
L 544.268659 457.359402 
L 547.114757 456.505573 
L 549.960854 455.651744 
L 552.806951 454.797915 
L 555.653049 453.874686 
L 558.499146 452.863227 
L 561.345243 451.851767 
L 564.191341 450.840308 
L 567.037438 449.828849 
L 569.883535 448.81739 
L 572.729633 447.805931 
L 575.57573 446.794471 
L 578.421827 445.783012 
L 581.267925 444.771553 
L 584.114022 443.760094 
L 586.960119 442.748634 
L 589.806217 441.737175 
L 592.652314 440.725716 
L 595.498411 439.714257 
L 598.344509 438.702798 
L 601.190606 437.691338 
L 604.036703 436.679879 
L 606.882801 435.66842 
L 609.728898 434.656961 
L 612.574995 433.645502 
L 615.421093 432.634042 
L 618.26719 431.622583 
L 621.113287 430.611124 
L 623.959385 429.599665 
L 626.805482 428.588206 
L 629.651579 427.576746 
L 632.497677 426.565287 
L 635.343774 425.553828 
L 638.189871 424.542369 
L 641.035969 423.53091 
L 643.882066 422.51945 
L 646.728163 421.507991 
L 649.574261 420.496532 
L 652.420358 419.485073 
L 655.266455 418.473614 
L 658.112553 417.462154 
L 660.95865 416.450695 
L 663.804747 415.439236 
L 666.650845 414.427777 
L 669.496942 413.416317 
L 672.343039 412.404858 
L 675.189137 411.393399 
L 678.035234 410.38194 
L 680.881331 409.370481 
L 683.727429 408.359021 
L 686.573526 407.347562 
L 689.419624 406.336103 
L 692.265721 405.324644 
L 695.111818 404.424 
L 695.111818 319.68 
L 695.111818 319.68 
L 692.265721 321.24325 
L 689.419624 322.998843 
L 686.573526 324.754435 
L 683.727429 326.510028 
L 680.881331 328.265621 
L 678.035234 330.021213 
L 675.189137 331.776806 
L 672.343039 333.532399 
L 669.496942 335.287991 
L 666.650845 337.043584 
L 663.804747 338.799177 
L 660.95865 340.554769 
L 658.112553 342.206874 
L 655.266455 343.844058 
L 652.420358 345.481242 
L 649.574261 347.118425 
L 646.728163 348.755609 
L 643.882066 350.392792 
L 641.035969 352.029976 
L 638.189871 353.66716 
L 635.343774 355.304343 
L 632.497677 356.941527 
L 629.651579 358.57871 
L 626.805482 360.215894 
L 623.959385 361.853078 
L 621.113287 363.532028 
L 618.26719 365.239686 
L 615.421093 366.947344 
L 612.574995 368.655003 
L 609.728898 370.362661 
L 606.882801 372.07032 
L 604.036703 373.777978 
L 601.190606 375.485636 
L 598.344509 377.193295 
L 595.498411 378.900953 
L 592.652314 380.608612 
L 589.806217 382.31627 
L 586.960119 384.023928 
L 584.114022 385.721164 
L 581.267925 387.395338 
L 578.421827 389.069513 
L 575.57573 390.743688 
L 572.729633 392.417863 
L 569.883535 394.092038 
L 567.037438 395.766213 
L 564.191341 397.440388 
L 561.345243 399.114563 
L 558.499146 400.788738 
L 555.653049 402.462913 
L 552.806951 404.076177 
L 549.960854 405.64153 
L 547.114757 407.206884 
L 544.268659 408.772237 
L 541.422562 410.337591 
L 538.576465 411.974121 
L 535.730367 413.68178 
L 532.88427 415.389438 
L 530.038173 417.097096 
L 527.192075 418.804755 
L 524.345978 420.449712 
L 521.499881 422.015066 
L 518.653783 423.580419 
L 515.807686 425.145773 
L 512.961589 426.711126 
L 510.115491 428.330705 
L 507.269394 430.038364 
L 504.423297 431.746022 
L 501.577199 433.45368 
L 498.731102 435.161339 
L 495.885005 436.868997 
L 493.038907 438.576656 
L 490.19281 440.284314 
L 487.346713 441.991972 
L 484.500615 443.699631 
L 481.654518 445.370015 
L 478.808421 446.935369 
L 475.962323 448.500722 
L 473.116226 450.066076 
L 470.270129 451.631429 
L 467.424031 453.196783 
L 464.577934 454.762136 
L 461.731837 456.32749 
L 458.885739 457.892843 
L 456.039642 459.458197 
L 453.193545 461.064196 
L 450.347447 462.914159 
L 447.50135 464.764123 
L 444.655253 466.614086 
L 441.809155 468.464049 
L 438.963058 470.266624 
L 436.116961 471.547368 
L 433.270863 472.828112 
L 430.424766 474.108855 
L 427.578669 475.389599 
L 424.732571 476.6695 
L 421.886474 477.914668 
L 419.040376 479.159835 
L 416.194279 480.405003 
L 413.348182 481.65017 
z
" clip-path="url(#p495325319f)" style="fill: #ff0000; fill-opacity: 0.15"/>
   </g>
   <g id="matplotlib.axis_7">
    <g id="xtick_19">
     <g id="line2d_41">
      <g>
       <use href="#m1504cfccaf" x="413.64" y="534.6" style="stroke: #000000; stroke-width: 0.8"/>
      </g>
     </g>
    </g>
    <g id="xtick_20">
     <g id="line2d_42">
      <g>
       <use href="#m1504cfccaf" x="464.76" y="534.6" style="stroke: #000000; stroke-width: 0.8"/>
      </g>
     </g>
    </g>
    <g id="xtick_21">
     <g id="line2d_43">
      <g>
       <use href="#m1504cfccaf" x="515.88" y="534.6" style="stroke: #000000; stroke-width: 0.8"/>
      </g>
     </g>
    </g>
    <g id="xtick_22">
     <g id="line2d_44">
      <g>
       <use href="#m1504cfccaf" x="567.72" y="534.6" style="stroke: #000000; stroke-width: 0.8"/>
      </g>
     </g>
    </g>
    <g id="xtick_23">
     <g id="line2d_45">
      <g>
       <use href="#m1504cfccaf" x="618.84" y="534.6" style="stroke: #000000; stroke-width: 0.8"/>
      </g>
     </g>
    </g>
    <g id="xtick_24">
     <g id="line2d_46">
      <g>
       <use href="#m1504cfccaf" x="669.96" y="534.6" style="stroke: #000000; stroke-width: 0.8"/>
      </g>
     </g>
    </g>
   </g>
   <g id="matplotlib.axis_8">
    <g id="ytick_20">
     <g id="line2d_47">
      <g>
       <use href="#m5d545ce8f8" x="399.96" y="511.56" style="stroke: #000000; stroke-width: 0.8"/>
      </g>
     </g>
    </g>
    <g id="ytick_21">
     <g id="line2d_48">
      <g>
       <use href="#m5d545ce8f8" x="399.96" y="479.16" style="stroke: #000000; stroke-width: 0.8"/>
      </g>
     </g>
    </g>
    <g id="ytick_22">
     <g id="line2d_49">
      <g>
       <use href="#m5d545ce8f8" x="399.96" y="446.04" style="stroke: #000000; stroke-width: 0.8"/>
      </g>
     </g>
    </g>
    <g id="ytick_23">
     <g id="line2d_50">
      <g>
       <use href="#m5d545ce8f8" x="399.96" y="412.92" style="stroke: #000000; stroke-width: 0.8"/>
      </g>
     </g>
    </g>
    <g id="ytick_24">
     <g id="line2d_51">
      <g>
       <use href="#m5d545ce8f8" x="399.96" y="379.8" style="stroke: #000000; stroke-width: 0.8"/>
      </g>
     </g>
    </g>
    <g id="ytick_25">
     <g id="line2d_52">
      <g>
       <use href="#m5d545ce8f8" x="399.96" y="347.4" style="stroke: #000000; stroke-width: 0.8"/>
      </g>
     </g>
    </g>
    <g id="ytick_26">
     <g id="line2d_53">
      <g>
       <use href="#m5d545ce8f8" x="399.96" y="314.28" style="stroke: #000000; stroke-width: 0.8"/>
      </g>
     </g>
    </g>
   </g>
   <g id="line2d_54">
    <path d="M 413.348182 494.993785 
L 416.194279 494.078952 
L 419.040376 493.164119 
L 421.886474 492.249287 
L 424.732571 491.334454 
L 427.578669 490.419621 
L 430.424766 489.504788 
L 433.270863 488.589956 
L 436.116961 487.675123 
L 438.963058 486.76029 
L 441.809155 485.845457 
L 444.655253 484.930625 
L 447.50135 484.015792 
L 450.347447 483.100959 
L 453.193545 482.186126 
L 456.039642 481.271293 
L 458.885739 480.356461 
L 461.731837 479.441628 
L 464.577934 478.526795 
L 467.424031 477.611962 
L 470.270129 476.69713 
L 473.116226 475.782297 
L 475.962323 474.867464 
L 478.808421 473.952631 
L 481.654518 473.037799 
L 484.500615 472.122966 
L 487.346713 471.208133 
L 490.19281 470.2933 
L 493.038907 469.378468 
L 495.885005 468.463635 
L 498.731102 467.548802 
L 501.577199 466.633969 
L 504.423297 465.719137 
L 507.269394 464.804304 
L 510.115491 463.889471 
L 512.961589 462.974638 
L 515.807686 462.059806 
L 518.653783 461.144973 
L 521.499881 460.23014 
L 524.345978 459.315307 
L 527.192075 458.400474 
L 530.038173 457.485642 
L 532.88427 456.570809 
L 535.730367 455.655976 
L 538.576465 454.741143 
L 541.422562 453.826311 
L 544.268659 452.911478 
L 547.114757 451.996645 
L 549.960854 451.081812 
L 552.806951 450.16698 
L 555.653049 449.252147 
L 558.499146 448.337314 
L 561.345243 447.422481 
L 564.191341 446.507649 
L 567.037438 445.592816 
L 569.883535 444.677983 
L 572.729633 443.76315 
L 575.57573 442.848318 
L 578.421827 441.933485 
L 581.267925 441.018652 
L 584.114022 440.103819 
L 586.960119 439.188986 
L 589.806217 438.274154 
L 592.652314 437.359321 
L 595.498411 436.444488 
L 598.344509 435.529655 
L 601.190606 434.614823 
L 604.036703 433.69999 
L 606.882801 432.785157 
L 609.728898 431.870324 
L 612.574995 430.955492 
L 615.421093 430.040659 
L 618.26719 429.125826 
L 621.113287 428.210993 
L 623.959385 427.296161 
L 626.805482 426.381328 
L 629.651579 425.466495 
L 632.497677 424.551662 
L 635.343774 423.63683 
L 638.189871 422.721997 
L 641.035969 421.807164 
L 643.882066 420.892331 
L 646.728163 419.977499 
L 649.574261 419.062666 
L 652.420358 418.147833 
L 655.266455 417.233 
L 658.112553 416.318167 
L 660.95865 415.403335 
L 663.804747 414.488502 
L 666.650845 413.573669 
L 669.496942 412.658836 
L 672.343039 411.744004 
L 675.189137 410.829171 
L 678.035234 409.914338 
L 680.881331 408.999505 
L 683.727429 408.084673 
L 686.573526 407.16984 
L 689.419624 406.255007 
L 692.265721 405.340174 
L 695.111818 404.425342 
" clip-path="url(#p495325319f)" style="fill: none; stroke: #ff0000; stroke-width: 2.25; stroke-linecap: square"/>
   </g>
   <g id="patch_18">
    <path d="M 399.96 534.6 
L 399.96 309.96 
" style="fill: none; stroke: #000000; stroke-width: 0.8; stroke-linejoin: miter; stroke-linecap: square"/>
   </g>
   <g id="patch_19">
    <path d="M 709.56 534.6 
L 709.56 309.96 
" style="fill: none; stroke: #000000; stroke-width: 0.8; stroke-linejoin: miter; stroke-linecap: square"/>
   </g>
   <g id="patch_20">
    <path d="M 399.96 534.6 
L 709.56 534.6 
" style="fill: none; stroke: #000000; stroke-width: 0.8; stroke-linejoin: miter; stroke-linecap: square"/>
   </g>
   <g id="patch_21">
    <path d="M 399.96 309.96 
L 709.56 309.96 
" style="fill: none; stroke: #000000; stroke-width: 0.8; stroke-linejoin: miter; stroke-linecap: square"/>
   </g>
  </g>
 </g>
 <defs>
  <clipPath id="p485df632ab">
   <rect x="44.66" y="26.88" width="309.94" height="224.56"/>
  </clipPath>
  <clipPath id="p1b302e3067">
   <rect x="399.26" y="26.88" width="309.94" height="224.56"/>
  </clipPath>
  <clipPath id="p8f1239e0fe">
   <rect x="44.66" y="309.48" width="309.94" height="224.56"/>
  </clipPath>
  <clipPath id="p495325319f">
   <rect x="399.26" y="309.48" width="309.94" height="224.56"/>
  </clipPath>
 </defs>
</svg>

<svg class="ov" width="1000" height="800" viewBox="0 0 1000 800"><g font-family="'Liberation Sans', sans-serif" text-anchor="middle" fill="#000000">
<text x="278.00" y="29.00" font-size="18.57" textLength="76.19" lengthAdjust="spacingAndGlyphs" fill="#1a1a1a">Dataset I</text>
<text x="277.50" y="389.00" font-size="14.29" textLength="9.14" lengthAdjust="spacingAndGlyphs">X</text>
<text x="0" y="0" font-size="14.23" textLength="8.53" lengthAdjust="spacingAndGlyphs" transform="translate(26.00 193.50) rotate(-90)">Y</text>
<text x="82.50" y="370.00" font-size="14.29" textLength="7.00" lengthAdjust="spacingAndGlyphs" stroke="#000" stroke-width="0.150">4</text>
<text x="159.50" y="370.00" font-size="14.29" textLength="7.62" lengthAdjust="spacingAndGlyphs" stroke="#000" stroke-width="0.150">6</text>
<text x="238.50" y="370.00" font-size="14.29" textLength="7.62" lengthAdjust="spacingAndGlyphs" stroke="#000" stroke-width="0.150">8</text>
<text x="316.50" y="370.00" font-size="14.29" textLength="15.08" lengthAdjust="spacingAndGlyphs" stroke="#000" stroke-width="0.150">10</text>
<text x="394.00" y="370.00" font-size="14.29" textLength="14.27" lengthAdjust="spacingAndGlyphs" stroke="#000" stroke-width="0.150">12</text>
<text x="473.50" y="370.00" font-size="14.29" textLength="15.08" lengthAdjust="spacingAndGlyphs" stroke="#000" stroke-width="0.150">14</text>
<text x="48.50" y="337.00" font-size="14.29" textLength="7.00" lengthAdjust="spacingAndGlyphs" stroke="#000" stroke-width="0.150">4</text>
<text x="48.00" y="302.00" font-size="14.29" textLength="8.17" lengthAdjust="spacingAndGlyphs" stroke="#000" stroke-width="0.150">5</text>
<text x="47.50" y="266.00" font-size="14.29" textLength="7.62" lengthAdjust="spacingAndGlyphs" stroke="#000" stroke-width="0.150">6</text>
<text x="48.00" y="231.00" font-size="14.29" textLength="8.57" lengthAdjust="spacingAndGlyphs" stroke="#000" stroke-width="0.150">7</text>
<text x="47.50" y="195.00" font-size="14.29" textLength="7.62" lengthAdjust="spacingAndGlyphs" stroke="#000" stroke-width="0.150">8</text>
<text x="48.50" y="159.00" font-size="14.29" textLength="7.78" lengthAdjust="spacingAndGlyphs" stroke="#000" stroke-width="0.150">9</text>
<text x="43.50" y="124.00" font-size="14.29" textLength="15.08" lengthAdjust="spacingAndGlyphs" stroke="#000" stroke-width="0.150">10</text>
<text x="43.50" y="88.00" font-size="14.29" textLength="15.24" lengthAdjust="spacingAndGlyphs" stroke="#000" stroke-width="0.150">11</text>
<text x="43.00" y="53.00" font-size="14.29" textLength="14.27" lengthAdjust="spacingAndGlyphs" stroke="#000" stroke-width="0.150">12</text>
<text x="769.50" y="29.00" font-size="18.57" textLength="79.12" lengthAdjust="spacingAndGlyphs" fill="#1a1a1a">Dataset II</text>
<text x="769.50" y="389.00" font-size="14.29" textLength="9.14" lengthAdjust="spacingAndGlyphs">X</text>
<text x="0" y="0" font-size="14.23" textLength="8.53" lengthAdjust="spacingAndGlyphs" transform="translate(519.00 193.50) rotate(-90)">Y</text>
<text x="574.50" y="370.00" font-size="14.29" textLength="7.00" lengthAdjust="spacingAndGlyphs" stroke="#000" stroke-width="0.150">4</text>
<text x="652.50" y="370.00" font-size="14.29" textLength="7.62" lengthAdjust="spacingAndGlyphs" stroke="#000" stroke-width="0.150">6</text>
<text x="730.50" y="370.00" font-size="14.29" textLength="7.62" lengthAdjust="spacingAndGlyphs" stroke="#000" stroke-width="0.150">8</text>
<text x="809.50" y="370.00" font-size="14.29" textLength="15.08" lengthAdjust="spacingAndGlyphs" stroke="#000" stroke-width="0.150">10</text>
<text x="887.00" y="370.00" font-size="14.29" textLength="14.27" lengthAdjust="spacingAndGlyphs" stroke="#000" stroke-width="0.150">12</text>
<text x="965.50" y="370.00" font-size="14.29" textLength="15.08" lengthAdjust="spacingAndGlyphs" stroke="#000" stroke-width="0.150">14</text>
<text x="541.50" y="313.00" font-size="14.29" textLength="7.00" lengthAdjust="spacingAndGlyphs" stroke="#000" stroke-width="0.150">4</text>
<text x="540.50" y="251.00" font-size="14.29" textLength="7.62" lengthAdjust="spacingAndGlyphs" stroke="#000" stroke-width="0.150">6</text>
<text x="540.50" y="189.00" font-size="14.29" textLength="7.62" lengthAdjust="spacingAndGlyphs" stroke="#000" stroke-width="0.150">8</text>
<text x="536.50" y="126.00" font-size="14.29" textLength="15.08" lengthAdjust="spacingAndGlyphs" stroke="#000" stroke-width="0.150">10</text>
<text x="536.00" y="64.00" font-size="14.29" textLength="14.27" lengthAdjust="spacingAndGlyphs" stroke="#000" stroke-width="0.150">12</text>
<text x="277.00" y="422.00" font-size="18.57" textLength="84.12" lengthAdjust="spacingAndGlyphs" fill="#1a1a1a">Dataset III</text>
<text x="277.50" y="782.00" font-size="14.29" textLength="9.14" lengthAdjust="spacingAndGlyphs">X</text>
<text x="0" y="0" font-size="14.23" textLength="8.53" lengthAdjust="spacingAndGlyphs" transform="translate(26.00 586.50) rotate(-90)">Y</text>
<text x="82.50" y="762.00" font-size="14.29" textLength="7.00" lengthAdjust="spacingAndGlyphs" stroke="#000" stroke-width="0.150">4</text>
<text x="159.50" y="762.00" font-size="14.29" textLength="7.62" lengthAdjust="spacingAndGlyphs" stroke="#000" stroke-width="0.150">6</text>
<text x="238.50" y="762.00" font-size="14.29" textLength="7.62" lengthAdjust="spacingAndGlyphs" stroke="#000" stroke-width="0.150">8</text>
<text x="316.50" y="762.00" font-size="14.29" textLength="15.08" lengthAdjust="spacingAndGlyphs" stroke="#000" stroke-width="0.150">10</text>
<text x="394.00" y="762.00" font-size="14.29" textLength="14.27" lengthAdjust="spacingAndGlyphs" stroke="#000" stroke-width="0.150">12</text>
<text x="473.50" y="762.00" font-size="14.29" textLength="15.08" lengthAdjust="spacingAndGlyphs" stroke="#000" stroke-width="0.150">14</text>
<text x="48.50" y="727.00" font-size="14.29" textLength="7.00" lengthAdjust="spacingAndGlyphs" stroke="#000" stroke-width="0.150">4</text>
<text x="47.50" y="663.00" font-size="14.29" textLength="7.62" lengthAdjust="spacingAndGlyphs" stroke="#000" stroke-width="0.150">6</text>
<text x="47.50" y="600.00" font-size="14.29" textLength="7.62" lengthAdjust="spacingAndGlyphs" stroke="#000" stroke-width="0.150">8</text>
<text x="43.50" y="536.00" font-size="14.29" textLength="15.08" lengthAdjust="spacingAndGlyphs" stroke="#000" stroke-width="0.150">10</text>
<text x="43.00" y="473.00" font-size="14.29" textLength="14.27" lengthAdjust="spacingAndGlyphs" stroke="#000" stroke-width="0.150">12</text>
<text x="769.00" y="422.00" font-size="18.57" textLength="86.04" lengthAdjust="spacingAndGlyphs" fill="#1a1a1a">Dataset IV</text>
<text x="769.50" y="782.00" font-size="14.29" textLength="9.14" lengthAdjust="spacingAndGlyphs">X</text>
<text x="0" y="0" font-size="14.23" textLength="8.53" lengthAdjust="spacingAndGlyphs" transform="translate(518.00 586.50) rotate(-90)">Y</text>
<text x="574.50" y="762.00" font-size="14.29" textLength="7.62" lengthAdjust="spacingAndGlyphs" stroke="#000" stroke-width="0.150">8</text>
<text x="645.50" y="762.00" font-size="14.29" textLength="15.08" lengthAdjust="spacingAndGlyphs" stroke="#000" stroke-width="0.150">10</text>
<text x="716.00" y="762.00" font-size="14.29" textLength="14.27" lengthAdjust="spacingAndGlyphs" stroke="#000" stroke-width="0.150">12</text>
<text x="787.50" y="762.00" font-size="14.29" textLength="15.08" lengthAdjust="spacingAndGlyphs" stroke="#000" stroke-width="0.150">14</text>
<text x="858.50" y="762.00" font-size="14.29" textLength="15.24" lengthAdjust="spacingAndGlyphs" stroke="#000" stroke-width="0.150">16</text>
<text x="930.50" y="762.00" font-size="14.29" textLength="15.24" lengthAdjust="spacingAndGlyphs" stroke="#000" stroke-width="0.150">18</text>
<text x="540.50" y="716.00" font-size="14.29" textLength="7.62" lengthAdjust="spacingAndGlyphs" stroke="#000" stroke-width="0.150">6</text>
<text x="540.50" y="670.00" font-size="14.29" textLength="7.62" lengthAdjust="spacingAndGlyphs" stroke="#000" stroke-width="0.150">8</text>
<text x="536.50" y="624.00" font-size="14.29" textLength="15.08" lengthAdjust="spacingAndGlyphs" stroke="#000" stroke-width="0.150">10</text>
<text x="536.00" y="579.00" font-size="14.29" textLength="14.27" lengthAdjust="spacingAndGlyphs" stroke="#000" stroke-width="0.150">12</text>
<text x="536.50" y="533.00" font-size="14.29" textLength="15.08" lengthAdjust="spacingAndGlyphs" stroke="#000" stroke-width="0.150">14</text>
<text x="536.50" y="487.00" font-size="14.29" textLength="15.24" lengthAdjust="spacingAndGlyphs" stroke="#000" stroke-width="0.150">16</text>
<text x="536.50" y="441.00" font-size="14.29" textLength="15.24" lengthAdjust="spacingAndGlyphs" stroke="#000" stroke-width="0.150">18</text>
</g></svg>
</div></body></html>
